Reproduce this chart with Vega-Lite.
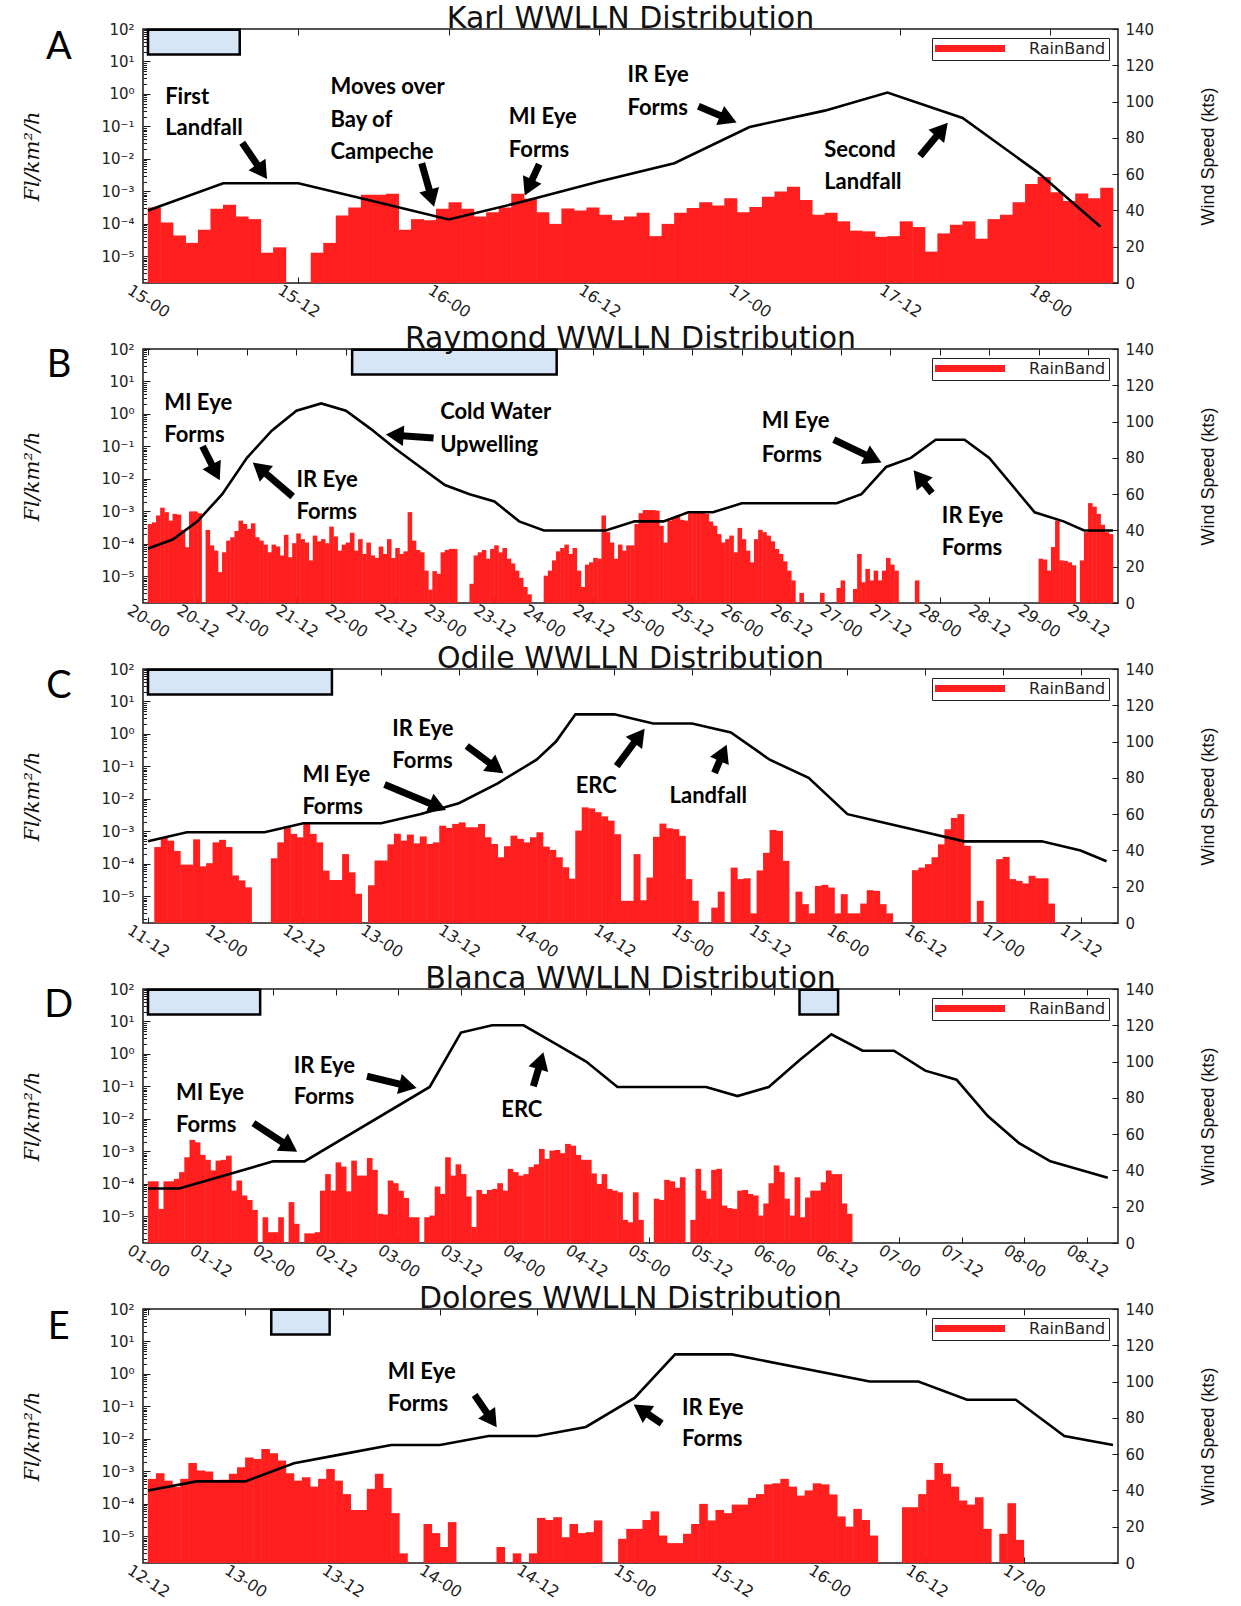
{
"$schema": "https://vega.github.io/schema/vega-lite/v6.json",
"background": "white",
"padding": {"left": 21, "top": 2, "right": 0, "bottom": 0},
"bounds": "flush",
"spacing": 66,
"resolve": {"scale": {"x": "independent", "y": "independent", "color": "independent"}, "legend": {"color": "independent"}},
"datasets": {
"A_bars": [{"h":0,"v":3.2e-4},{"h":1,"v":1.1e-4},{"h":2,"v":4.4e-5},{"h":3,"v":2.6e-5},{"h":4,"v":6.6e-5},{"h":5,"v":2.9e-4},{"h":6,"v":3.9e-4},{"h":7,"v":1.7e-4},{"h":8,"v":1.4e-4},{"h":9,"v":1.3e-5},{"h":10,"v":1.9e-5},{"h":13,"v":1.3e-5},{"h":14,"v":2.6e-5},{"h":15,"v":1.8e-4},{"h":16,"v":3.2e-4},{"h":17,"v":7.9e-4},{"h":18,"v":7.9e-4},{"h":19,"v":8.5e-4},{"h":20,"v":6.6e-5},{"h":21,"v":1.4e-4},{"h":22,"v":1.3e-4},{"h":23,"v":2.9e-4},{"h":24,"v":4.6e-4},{"h":25,"v":2.9e-4},{"h":26,"v":1.7e-4},{"h":27,"v":2.3e-4},{"h":28,"v":3.2e-4},{"h":29,"v":8.5e-4},{"h":30,"v":5.9e-4},{"h":31,"v":2.3e-4},{"h":32,"v":1.0e-4},{"h":33,"v":3.0e-4},{"h":34,"v":2.6e-4},{"h":35,"v":3.2e-4},{"h":36,"v":1.9e-4},{"h":37,"v":1.3e-4},{"h":38,"v":1.7e-4},{"h":39,"v":2.2e-4},{"h":40,"v":4.2e-5},{"h":41,"v":1.0e-4},{"h":42,"v":2.2e-4},{"h":43,"v":3.1e-4},{"h":44,"v":4.6e-4},{"h":45,"v":3.7e-4},{"h":46,"v":6.2e-4},{"h":47,"v":2.3e-4},{"h":48,"v":3.3e-4},{"h":49,"v":6.8e-4},{"h":50,"v":1.0e-3},{"h":51,"v":1.4e-3},{"h":52,"v":5.4e-4},{"h":53,"v":1.9e-4},{"h":54,"v":2.2e-4},{"h":55,"v":1.2e-4},{"h":56,"v":6.2e-5},{"h":57,"v":5.9e-5},{"h":58,"v":4.0e-5},{"h":59,"v":4.2e-5},{"h":60,"v":1.2e-4},{"h":61,"v":8.0e-5},{"h":62,"v":1.4e-5},{"h":63,"v":5.1e-5},{"h":64,"v":9.4e-5},{"h":65,"v":1.2e-4},{"h":66,"v":3.5e-5},{"h":67,"v":1.4e-4},{"h":68,"v":1.9e-4},{"h":69,"v":4.6e-4},{"h":70,"v":1.7e-3},{"h":71,"v":2.8e-3},{"h":72,"v":9.5e-4},{"h":73,"v":5.1e-4},{"h":74,"v":8.6e-4},{"h":75,"v":6.2e-4},{"h":76,"v":1.3e-3}],
"A_line": [{"h":0,"w":40},{"h":6,"w":55},{"h":12,"w":55},{"h":18,"w":45},{"h":24,"w":35},{"h":30,"w":45},{"h":36,"w":56},{"h":42,"w":66},{"h":48,"w":86},{"h":54,"w":95},{"h":59,"w":105},{"h":65,"w":91},{"h":71,"w":61},{"h":76,"w":31}],
"A_box": [{"h":0,"h2":7.32,"w":139.6,"w2":126}],
"A_text": [{"h":1.37,"w":102.7,"t":"First"},{"h":1.37,"w":85.2,"t":"Landfall"},{"h":14.56,"w":107.8,"t":"Moves over"},{"h":14.56,"w":89.8,"t":"Bay of"},{"h":14.56,"w":72.3,"t":"Campeche"},{"h":28.79,"w":91.4,"t":"MI Eye"},{"h":28.79,"w":73.4,"t":"Forms"},{"h":38.26,"w":114.6,"t":"IR Eye"},{"h":38.26,"w":96.5,"t":"Forms"},{"h":53.95,"w":73.4,"t":"Second"},{"h":53.95,"w":55.9,"t":"Landfall"}],
"A_arrow": [{"h":7.52,"w":77.3,"h2":9.10,"w2":61.3,"a":145.6},{"h":21.84,"w":66.0,"h2":22.63,"w2":46.7,"a":164.1},{"h":31.22,"w":65.5,"h2":30.36,"w2":52.6,"a":205},{"h":43.92,"w":97.4,"h2":46.31,"w2":90.4,"a":112.7},{"h":61.6,"w":70.0,"h2":63.36,"w2":84.6,"a":40.2}],
"A_lbl": [{"h":-7.12,"w":129.8,"t":"A"}],
"B_bars": [{"h":0,"v":4.1e-4},{"h":1,"v":4.6e-4},{"h":2,"v":7.5e-4},{"h":3,"v":1.3e-3},{"h":4,"v":9.5e-4},{"h":5,"v":5.2e-4},{"h":6,"v":8.4e-4},{"h":7,"v":8.0e-4},{"h":8,"v":2.7e-4},{"h":9,"v":7.9e-5},{"h":10,"v":1.0e-3},{"h":11,"v":1.0e-3},{"h":12,"v":8.8e-4},{"h":14,"v":2.7e-4},{"h":15,"v":9e-5},{"h":16,"v":6.2e-5},{"h":17,"v":1.35e-5},{"h":18,"v":5.5e-5},{"h":19,"v":1.26e-4},{"h":20,"v":1.6e-4},{"h":21,"v":2.5e-4},{"h":22,"v":5.2e-4},{"h":23,"v":4.1e-4},{"h":24,"v":2.9e-4},{"h":25,"v":4.3e-4},{"h":26,"v":1.6e-4},{"h":27,"v":1.26e-4},{"h":28,"v":9.5e-5},{"h":29,"v":5.5e-5},{"h":30,"v":9.5e-5},{"h":31,"v":8.3e-5},{"h":32,"v":4.4e-5},{"h":33,"v":1.9e-4},{"h":34,"v":3.9e-5},{"h":35,"v":1.05e-4},{"h":36,"v":2.1e-4},{"h":37,"v":1.4e-4},{"h":38,"v":1.1e-4},{"h":39,"v":3.1e-5},{"h":40,"v":1.8e-4},{"h":41,"v":1.2e-4},{"h":42,"v":1.4e-4},{"h":43,"v":1.05e-4},{"h":44,"v":3.4e-4},{"h":45,"v":1.7e-4},{"h":46,"v":6.2e-5},{"h":47,"v":9.5e-5},{"h":48,"v":1.1e-4},{"h":49,"v":2.2e-4},{"h":50,"v":6.2e-5},{"h":51,"v":1.4e-4},{"h":52,"v":4.9e-5},{"h":53,"v":1.1e-4},{"h":54,"v":4.4e-5},{"h":55,"v":3.7e-5},{"h":56,"v":8.3e-5},{"h":57,"v":4.9e-5},{"h":58,"v":1.4e-4},{"h":59,"v":3.7e-5},{"h":60,"v":7.5e-5},{"h":61,"v":4.9e-5},{"h":62,"v":5.9e-5},{"h":63,"v":9.5e-4},{"h":64,"v":1.26e-4},{"h":65,"v":6.5e-5},{"h":66,"v":5.5e-5},{"h":67,"v":1.5e-5},{"h":68,"v":3.9e-6},{"h":69,"v":1.45e-5},{"h":70,"v":1.2e-5},{"h":71,"v":5.5e-5},{"h":72,"v":6.5e-5},{"h":73,"v":7.0e-5},{"h":74,"v":7.0e-5},{"h":78,"v":5.9e-6},{"h":79,"v":4.4e-5},{"h":80,"v":5.5e-5},{"h":81,"v":6.5e-5},{"h":82,"v":3.5e-5},{"h":83,"v":7.0e-5},{"h":84,"v":9e-5},{"h":85,"v":5.5e-5},{"h":86,"v":7.5e-5},{"h":87,"v":3.5e-5},{"h":88,"v":2.5e-5},{"h":89,"v":1.5e-5},{"h":90,"v":9e-6},{"h":91,"v":4.7e-6},{"h":92,"v":2.8e-6},{"h":96,"v":1.05e-5},{"h":97,"v":1.5e-5},{"h":98,"v":3.1e-5},{"h":99,"v":5.9e-5},{"h":100,"v":7.5e-5},{"h":101,"v":9.5e-5},{"h":102,"v":4.9e-5},{"h":103,"v":7.5e-5},{"h":104,"v":1.5e-5},{"h":105,"v":4.7e-6},{"h":106,"v":2.3e-5},{"h":107,"v":2.7e-5},{"h":108,"v":3.7e-5},{"h":109,"v":3.5e-5},{"h":110,"v":7.5e-4},{"h":111,"v":2.3e-4},{"h":112,"v":1.1e-4},{"h":113,"v":3.5e-5},{"h":114,"v":9.5e-5},{"h":115,"v":6.2e-5},{"h":116,"v":9e-5},{"h":117,"v":9e-5},{"h":118,"v":4.1e-4},{"h":119,"v":8.8e-4},{"h":120,"v":1.1e-3},{"h":121,"v":1.1e-3},{"h":122,"v":1.1e-3},{"h":123,"v":1.06e-3},{"h":124,"v":3.6e-4},{"h":125,"v":1.1e-4},{"h":126,"v":5.2e-4},{"h":127,"v":6.6e-4},{"h":128,"v":7.5e-4},{"h":129,"v":5.5e-4},{"h":130,"v":5.2e-4},{"h":131,"v":8.8e-4},{"h":132,"v":1.0e-3},{"h":133,"v":1.0e-3},{"h":134,"v":9.5e-4},{"h":135,"v":8.4e-4},{"h":136,"v":4.9e-4},{"h":137,"v":3.6e-4},{"h":138,"v":2.0e-4},{"h":139,"v":1.1e-4},{"h":140,"v":1.4e-4},{"h":141,"v":1.8e-4},{"h":142,"v":5.5e-5},{"h":143,"v":3.1e-4},{"h":144,"v":1.4e-4},{"h":145,"v":6.2e-5},{"h":146,"v":2.7e-5},{"h":147,"v":1.4e-4},{"h":148,"v":2.7e-4},{"h":149,"v":2.3e-4},{"h":150,"v":1.8e-4},{"h":151,"v":1.2e-4},{"h":152,"v":7e-5},{"h":153,"v":4.9e-5},{"h":154,"v":2.9e-5},{"h":155,"v":1.5e-5},{"h":156,"v":7.5e-6},{"h":158,"v":3.1e-6},{"h":163,"v":3.1e-6},{"h":167,"v":4.4e-6},{"h":168,"v":7.5e-6},{"h":171,"v":4.1e-6},{"h":172,"v":4.9e-5},{"h":173,"v":6.6e-6},{"h":174,"v":1.7e-5},{"h":175,"v":7.5e-6},{"h":176,"v":1.5e-5},{"h":177,"v":7.5e-6},{"h":178,"v":1.5e-5},{"h":179,"v":3.7e-5},{"h":180,"v":2.3e-5},{"h":181,"v":1.5e-5},{"h":186,"v":7.5e-6},{"h":216,"v":3.5e-5},{"h":217,"v":3.3e-5},{"h":218,"v":1.5e-5},{"h":219,"v":8e-5},{"h":220,"v":5.2e-4},{"h":221,"v":3.1e-5},{"h":222,"v":3.0e-5},{"h":223,"v":2.7e-5},{"h":224,"v":2.2e-5},{"h":226,"v":3.1e-5},{"h":227,"v":2.3e-4},{"h":228,"v":1.8e-3},{"h":229,"v":1.4e-3},{"h":230,"v":8.4e-4},{"h":231,"v":3.9e-4},{"h":232,"v":2.3e-4},{"h":233,"v":2.0e-4}],
"B_line": [{"h":0,"w":30},{"h":6,"w":35},{"h":12,"w":45},{"h":18,"w":60},{"h":24,"w":80},{"h":30,"w":95},{"h":36,"w":106},{"h":42,"w":110},{"h":48,"w":106},{"h":54,"w":96},{"h":60,"w":85},{"h":66,"w":75},{"h":72,"w":65},{"h":78,"w":60},{"h":84,"w":56},{"h":90,"w":45},{"h":96,"w":40},{"h":111,"w":40},{"h":118,"w":45},{"h":125,"w":45},{"h":131,"w":50},{"h":137,"w":50},{"h":144,"w":55},{"h":167,"w":55},{"h":173,"w":60},{"h":179,"w":75},{"h":185,"w":80},{"h":191,"w":90},{"h":198,"w":90},{"h":204,"w":80},{"h":215,"w":50},{"h":222,"w":45},{"h":227,"w":40},{"h":234,"w":40}],
"B_box": [{"h":49.5,"h2":99.1,"w":139.6,"w2":126}],
"B_text": [{"h":3.93,"w":110.5,"t":"MI Eye"},{"h":3.93,"w":92.4,"t":"Forms"},{"h":36.0,"w":68.0,"t":"IR Eye"},{"h":36.0,"w":50.4,"t":"Forms"},{"h":70.84,"w":105.4,"t":"Cold Water"},{"h":70.84,"w":86.9,"t":"Upwelling"},{"h":148.8,"w":100.2,"t":"MI Eye"},{"h":148.8,"w":81.8,"t":"Forms"},{"h":192.5,"w":47.7,"t":"IR Eye"},{"h":192.5,"w":30.1,"t":"Forms"}],
"B_arrow": [{"h":13.22,"w":86.4,"h2":16.42,"w2":72.0,"a":152.9},{"h":35.08,"w":58.7,"h2":27.06,"w2":74.3,"a":310},{"h":69.24,"w":91.0,"h2":59.83,"w2":92.5,"a":274},{"h":166.3,"w":90.1,"h2":175.9,"w2":79.6,"a":115.3},{"h":190.1,"w":60.6,"h2":187.0,"w2":69.4,"a":321.3}],
"B_lbl": [{"h":-21.6,"w":130.4,"t":"B"}],
"C_bars": [{"h":13,"v":3.3e-4},{"h":14,"v":6.6e-4},{"h":15,"v":5.2e-4},{"h":16,"v":2.5e-4},{"h":17,"v":9.5e-5},{"h":18,"v":9.5e-5},{"h":19,"v":5.7e-4},{"h":20,"v":8.4e-5},{"h":21,"v":1.05e-4},{"h":22,"v":4.6e-4},{"h":23,"v":5.5e-4},{"h":24,"v":3.3e-4},{"h":25,"v":4.4e-5},{"h":26,"v":3.1e-5},{"h":27,"v":1.9e-5},{"h":31,"v":1.5e-4},{"h":32,"v":4.6e-4},{"h":33,"v":1.44e-3},{"h":34,"v":8.4e-4},{"h":35,"v":6.6e-4},{"h":36,"v":1.8e-3},{"h":37,"v":8.4e-4},{"h":38,"v":4.6e-4},{"h":39,"v":6.2e-5},{"h":40,"v":3.2e-5},{"h":41,"v":3.2e-5},{"h":42,"v":2.0e-4},{"h":43,"v":5.5e-5},{"h":44,"v":1.2e-5},{"h":46,"v":2.2e-5},{"h":47,"v":1.27e-4},{"h":48,"v":1.27e-4},{"h":49,"v":4.0e-4},{"h":50,"v":8.4e-4},{"h":51,"v":5.2e-4},{"h":52,"v":8.0e-4},{"h":53,"v":4.3e-4},{"h":54,"v":7.0e-4},{"h":55,"v":4.1e-4},{"h":56,"v":4.6e-4},{"h":57,"v":1.5e-3},{"h":58,"v":1.28e-3},{"h":59,"v":1.7e-3},{"h":60,"v":1.9e-3},{"h":61,"v":1.34e-3},{"h":62,"v":1.34e-3},{"h":63,"v":1.7e-3},{"h":64,"v":6.6e-4},{"h":65,"v":4.1e-4},{"h":66,"v":1.6e-4},{"h":67,"v":3.5e-4},{"h":68,"v":7.4e-4},{"h":69,"v":5.9e-4},{"h":70,"v":4.6e-4},{"h":71,"v":6.6e-4},{"h":72,"v":9.4e-4},{"h":73,"v":3.4e-4},{"h":74,"v":2.7e-4},{"h":75,"v":1.6e-4},{"h":76,"v":7.9e-5},{"h":77,"v":3.5e-5},{"h":78,"v":1.06e-3},{"h":79,"v":5.5e-3},{"h":80,"v":5.1e-3},{"h":81,"v":3.9e-3},{"h":82,"v":2.9e-3},{"h":83,"v":2.15e-3},{"h":84,"v":8.2e-4},{"h":85,"v":7.3e-6},{"h":86,"v":7.3e-6},{"h":87,"v":2.0e-4},{"h":88,"v":7.6e-6},{"h":89,"v":3.8e-5},{"h":90,"v":6.8e-4},{"h":91,"v":1.74e-3},{"h":92,"v":1.25e-3},{"h":93,"v":1.17e-3},{"h":94,"v":7.3e-4},{"h":95,"v":3.4e-5},{"h":96,"v":7.3e-6},{"h":99,"v":4.5e-6},{"h":100,"v":1.4e-5},{"h":102,"v":7.7e-5},{"h":103,"v":3.4e-5},{"h":104,"v":3.6e-5},{"h":105,"v":3.0e-6},{"h":106,"v":6.3e-5},{"h":107,"v":2.2e-4},{"h":108,"v":1.11e-3},{"h":109,"v":1.04e-3},{"h":110,"v":1.24e-4},{"h":112,"v":1.4e-5},{"h":113,"v":5.75e-6},{"h":114,"v":3.0e-6},{"h":115,"v":2.1e-5},{"h":116,"v":2.26e-5},{"h":117,"v":1.87e-5},{"h":118,"v":3.0e-6},{"h":119,"v":1.17e-5},{"h":120,"v":3.0e-6},{"h":121,"v":3.0e-6},{"h":122,"v":6.0e-6},{"h":123,"v":1.55e-5},{"h":124,"v":1.48e-5},{"h":125,"v":5.75e-6},{"h":126,"v":3.0e-6},{"h":130,"v":6.4e-5},{"h":131,"v":7.7e-5},{"h":132,"v":9.8e-5},{"h":133,"v":1.6e-4},{"h":134,"v":4.0e-4},{"h":135,"v":1.17e-3},{"h":136,"v":2.6e-3},{"h":137,"v":3.4e-3},{"h":138,"v":3.6e-4},{"h":140,"v":7.3e-6},{"h":143,"v":1.4e-4},{"h":144,"v":1.64e-4},{"h":145,"v":3.4e-5},{"h":146,"v":3.0e-5},{"h":147,"v":2.5e-5},{"h":148,"v":4.3e-5},{"h":149,"v":3.6e-5},{"h":150,"v":3.6e-5},{"h":151,"v":6.0e-6}],
"C_line": [{"h":12,"w":45},{"h":18,"w":50},{"h":30,"w":50},{"h":36,"w":55},{"h":48,"w":55},{"h":54,"w":60},{"h":60,"w":66},{"h":66,"w":77},{"h":72,"w":90},{"h":75,"w":100},{"h":78,"w":115},{"h":84,"w":115},{"h":90,"w":110},{"h":96,"w":110},{"h":102,"w":105},{"h":108,"w":90},{"h":114,"w":80},{"h":120,"w":60},{"h":126,"w":55},{"h":132,"w":50},{"h":138,"w":45},{"h":150,"w":45},{"h":156,"w":40},{"h":160,"w":34}],
"C_box": [{"h":12,"h2":40.4,"w":139.6,"w2":126}],
"C_text": [{"h":49.72,"w":107.0,"t":"IR Eye"},{"h":49.72,"w":89.4,"t":"Forms"},{"h":35.84,"w":81.8,"t":"MI Eye"},{"h":35.84,"w":63.9,"t":"Forms"},{"h":78.03,"w":75.3,"t":"ERC"},{"h":92.54,"w":69.8,"t":"Landfall"}],
"C_arrow": [{"h":61.22,"w":97.6,"h2":65.78,"w2":85.4,"a":126.3},{"h":48.53,"w":76.3,"h2":56.75,"w2":64.1,"a":112.2},{"h":84.37,"w":86.5,"h2":87.86,"w2":103.2,"a":37.2},{"h":99.47,"w":82.7,"h2":100.79,"w2":93.8,"a":24.0}],
"C_lbl": [{"h":-1.77,"w":130.3,"t":"C"}],
"D_bars": [{"h":0,"v":1.2e-4},{"h":1,"v":1.2e-4},{"h":2,"v":1.7e-5},{"h":3,"v":1.2e-4},{"h":4,"v":1.2e-4},{"h":5,"v":1.43e-4},{"h":6,"v":2.3e-4},{"h":7,"v":6.6e-4},{"h":8,"v":2.26e-3},{"h":9,"v":1.9e-3},{"h":10,"v":7.8e-4},{"h":11,"v":5.5e-4},{"h":12,"v":2.6e-4},{"h":13,"v":5.2e-4},{"h":14,"v":5.5e-4},{"h":15,"v":7.4e-4},{"h":16,"v":6.2e-5},{"h":17,"v":1.27e-4},{"h":18,"v":4.4e-5},{"h":19,"v":3.2e-5},{"h":20,"v":1.58e-5},{"h":22,"v":9.4e-6},{"h":23,"v":3.26e-6},{"h":24,"v":3.26e-6},{"h":25,"v":9.4e-6},{"h":27,"v":2.75e-5},{"h":28,"v":5.9e-6},{"h":30,"v":3.0e-6},{"h":31,"v":3.0e-6},{"h":32,"v":3.26e-6},{"h":33,"v":6.2e-5},{"h":34,"v":2.0e-4},{"h":35,"v":6.2e-5},{"h":36,"v":4.6e-4},{"h":37,"v":3.4e-4},{"h":38,"v":5.9e-5},{"h":39,"v":5.2e-4},{"h":40,"v":1.8e-4},{"h":41,"v":1.8e-4},{"h":42,"v":6.3e-4},{"h":43,"v":2.7e-4},{"h":44,"v":1.2e-5},{"h":45,"v":1.14e-5},{"h":46,"v":1.27e-4},{"h":47,"v":1.05e-4},{"h":48,"v":6.2e-5},{"h":49,"v":3.7e-5},{"h":50,"v":9.4e-6},{"h":51,"v":9.4e-6},{"h":53,"v":9.4e-6},{"h":54,"v":1.06e-5},{"h":55,"v":8.3e-5},{"h":56,"v":4.9e-5},{"h":57,"v":6.6e-4},{"h":58,"v":1.8e-4},{"h":59,"v":4.0e-4},{"h":60,"v":2.0e-4},{"h":61,"v":4.1e-5},{"h":62,"v":4.7e-6},{"h":63,"v":6.5e-5},{"h":64,"v":4.9e-5},{"h":65,"v":6.5e-5},{"h":66,"v":7.0e-5},{"h":67,"v":1.05e-4},{"h":68,"v":6.2e-5},{"h":69,"v":2.9e-4},{"h":70,"v":2.3e-4},{"h":71,"v":1.8e-4},{"h":72,"v":2.0e-4},{"h":73,"v":3.3e-4},{"h":74,"v":4.0e-4},{"h":75,"v":1.19e-3},{"h":76,"v":5.9e-4},{"h":77,"v":1.06e-3},{"h":78,"v":1.11e-3},{"h":79,"v":8.8e-4},{"h":80,"v":1.7e-3},{"h":81,"v":1.5e-3},{"h":82,"v":7.8e-4},{"h":83,"v":5.5e-4},{"h":84,"v":5.5e-4},{"h":85,"v":2.1e-4},{"h":86,"v":1.0e-4},{"h":87,"v":2.0e-4},{"h":88,"v":7.0e-5},{"h":89,"v":6.2e-5},{"h":90,"v":5.5e-5},{"h":91,"v":7.8e-6},{"h":92,"v":6.6e-6},{"h":93,"v":5.5e-5},{"h":94,"v":7.8e-6},{"h":97,"v":3.5e-5},{"h":98,"v":3.2e-5},{"h":99,"v":1.33e-4},{"h":100,"v":1.2e-4},{"h":101,"v":7.6e-5},{"h":102,"v":1.6e-4},{"h":104,"v":7.8e-6},{"h":105,"v":2.9e-4},{"h":106,"v":6.2e-5},{"h":107,"v":3.5e-5},{"h":108,"v":2.7e-4},{"h":109,"v":2.9e-4},{"h":110,"v":2.15e-5},{"h":111,"v":1.8e-5},{"h":112,"v":1.7e-5},{"h":113,"v":6.2e-5},{"h":114,"v":6.5e-5},{"h":115,"v":4.9e-5},{"h":116,"v":4.4e-5},{"h":117,"v":1.06e-5},{"h":118,"v":2.5e-5},{"h":119,"v":1.05e-4},{"h":120,"v":3.7e-4},{"h":121,"v":2.3e-4},{"h":122,"v":3.5e-5},{"h":123,"v":1.06e-5},{"h":124,"v":1.6e-4},{"h":125,"v":9.4e-6},{"h":126,"v":3.8e-5},{"h":127,"v":6.2e-5},{"h":128,"v":6.2e-5},{"h":129,"v":1.12e-4},{"h":130,"v":2.6e-4},{"h":131,"v":2.0e-4},{"h":132,"v":2.0e-4},{"h":133,"v":2.5e-5},{"h":134,"v":1.2e-5}],
"D_line": [{"h":0,"w":30},{"h":6,"w":30},{"h":24,"w":45},{"h":30,"w":45},{"h":54,"w":86},{"h":60,"w":116},{"h":66,"w":120},{"h":72,"w":120},{"h":78,"w":110},{"h":84,"w":100},{"h":90,"w":86},{"h":107,"w":86},{"h":113,"w":81},{"h":119,"w":86},{"h":125,"w":101},{"h":131,"w":115},{"h":137,"w":106},{"h":143,"w":106},{"h":149,"w":95},{"h":155,"w":90},{"h":161,"w":70},{"h":167,"w":55},{"h":173,"w":45},{"h":184,"w":36}],
"D_box": [{"h":0,"h2":21.5,"w":139.6,"w2":126},{"h":124.9,"h2":132.3,"w":139.6,"w2":126}],
"D_text": [{"h":27.94,"w":97.5,"t":"IR Eye"},{"h":27.94,"w":80.3,"t":"Forms"},{"h":5.36,"w":82.8,"t":"MI Eye"},{"h":5.36,"w":65.2,"t":"Forms"},{"h":67.72,"w":73.5,"t":"ERC"}],
"D_arrow": [{"h":41.98,"w":91.9,"h2":49.85,"w2":86.5,"a":103.3},{"h":20.21,"w":66.1,"h2":27.17,"w2":52.9,"a":123},{"h":73.88,"w":86.4,"h2":75.32,"w2":100.5,"a":16.4}],
"D_lbl": [{"h":-17.1,"w":130.4,"t":"D"}],
"E_bars": [{"h":12,"v":5.9e-4},{"h":13,"v":8.8e-4},{"h":14,"v":5.2e-4},{"h":15,"v":3.3e-4},{"h":16,"v":5.9e-4},{"h":17,"v":1.8e-3},{"h":18,"v":1.06e-3},{"h":19,"v":1.0e-3},{"h":20,"v":5.5e-4},{"h":21,"v":5.5e-4},{"h":22,"v":8.4e-4},{"h":23,"v":1.34e-3},{"h":24,"v":2.7e-3},{"h":25,"v":2.4e-3},{"h":26,"v":4.9e-3},{"h":27,"v":3.6e-3},{"h":28,"v":2.15e-3},{"h":29,"v":8.8e-4},{"h":30,"v":5.2e-4},{"h":31,"v":6.6e-4},{"h":32,"v":3.4e-4},{"h":33,"v":5.9e-4},{"h":34,"v":1.19e-3},{"h":35,"v":5.2e-4},{"h":36,"v":2.0e-4},{"h":37,"v":6.5e-5},{"h":38,"v":6.5e-5},{"h":39,"v":2.9e-4},{"h":40,"v":8.4e-4},{"h":41,"v":3.1e-4},{"h":42,"v":5.2e-5},{"h":43,"v":3.0e-6},{"h":46,"v":2.4e-5},{"h":47,"v":1.26e-5},{"h":48,"v":4.7e-6},{"h":49,"v":2.75e-5},{"h":55,"v":4.7e-6},{"h":57,"v":3.0e-6},{"h":59,"v":3.0e-6},{"h":60,"v":3.7e-5},{"h":61,"v":3.2e-5},{"h":62,"v":3.9e-5},{"h":63,"v":9.4e-6},{"h":64,"v":2.4e-5},{"h":65,"v":1.26e-5},{"h":66,"v":1.35e-5},{"h":67,"v":3.1e-5},{"h":70,"v":8.4e-6},{"h":71,"v":1.7e-5},{"h":72,"v":1.7e-5},{"h":73,"v":3.2e-5},{"h":74,"v":5.9e-5},{"h":75,"v":1.06e-5},{"h":76,"v":6.2e-6},{"h":77,"v":6.2e-6},{"h":78,"v":1.2e-5},{"h":79,"v":2.4e-5},{"h":80,"v":1.0e-4},{"h":81,"v":3.1e-5},{"h":82,"v":6.5e-5},{"h":83,"v":5.2e-5},{"h":84,"v":9.5e-5},{"h":85,"v":9.5e-5},{"h":86,"v":1.53e-4},{"h":87,"v":2.0e-4},{"h":88,"v":4.0e-4},{"h":89,"v":4.3e-4},{"h":90,"v":5.9e-4},{"h":91,"v":3.4e-4},{"h":92,"v":1.8e-4},{"h":93,"v":2.6e-4},{"h":94,"v":4.3e-4},{"h":95,"v":4.0e-4},{"h":96,"v":1.95e-4},{"h":97,"v":4.1e-5},{"h":98,"v":2.0e-5},{"h":99,"v":7.0e-5},{"h":100,"v":3.2e-5},{"h":101,"v":1.06e-5},{"h":105,"v":7.9e-5},{"h":106,"v":7.9e-5},{"h":107,"v":2.0e-4},{"h":108,"v":5.5e-4},{"h":109,"v":1.8e-3},{"h":110,"v":8.4e-4},{"h":111,"v":3.4e-4},{"h":112,"v":1.27e-4},{"h":113,"v":9.5e-5},{"h":114,"v":1.6e-4},{"h":115,"v":1.7e-5},{"h":117,"v":1.2e-5},{"h":118,"v":1.05e-4},{"h":119,"v":7.8e-6}],
"E_line": [{"h":12,"w":40},{"h":18,"w":45},{"h":24,"w":45},{"h":30,"w":55},{"h":36,"w":60},{"h":42,"w":65},{"h":48,"w":65},{"h":54,"w":70},{"h":60,"w":70},{"h":66,"w":75},{"h":72,"w":91},{"h":77,"w":115},{"h":84,"w":115},{"h":101,"w":100},{"h":107,"w":100},{"h":113,"w":90},{"h":119,"w":90},{"h":125,"w":70},{"h":131,"w":65}],
"E_box": [{"h":27.2,"h2":34.4,"w":139.6,"w2":126}],
"E_text": [{"h":41.56,"w":105.1,"t":"MI Eye"},{"h":41.56,"w":87.4,"t":"Forms"},{"h":77.86,"w":85.6,"t":"IR Eye"},{"h":77.86,"w":68.6,"t":"Forms"}],
"E_arrow": [{"h":52.28,"w":92.6,"h2":54.38,"w2":78.8,"a":145.4},{"h":75.34,"w":76.9,"h2":72.8,"w2":84.6,"a":303.8}],
"E_lbl": [{"h":1.0,"w":129.8,"t":"E"}]
},
"vconcat": [
{
"title": {"text": "Karl WWLLN Distribution"},
"width": 975, "height": 254,
"resolve": {"scale": {"y": "independent"}, "axis": {"y": "independent"}},
"layer": [
{"data": {"name": "A_bars"}, "mark": {"type": "bar", "orient": "vertical", "width": 13.06, "xOffset": 6.33},
 "encoding": {
  "x": {"field": "h", "type": "quantitative", "scale": {"domain": [0, 77], "nice": false, "zero": false}, "axis": {"orient": "bottom", "title": null, "values": [0,12,24,36,48,60,72], "labelExpr": "(15+floor(datum.value/24)) + '-' + (datum.value % 24 == 0 ? '00' : '12')"}},
  "y": {"field": "v", "type": "quantitative", "scale": {"type": "log", "domain": [1.514e-6, 100], "nice": false}, "axis": {"orient": "left", "title": "Fl/km²/h", "labelOverlap": false, "values": [2e-6,3e-6,4e-6,5e-6,6e-6,7e-6,8e-6,9e-6,1e-5,2e-5,3e-5,4e-5,5e-5,6e-5,7e-5,8e-5,9e-5,1e-4,2e-4,3e-4,4e-4,5e-4,6e-4,7e-4,8e-4,9e-4,1e-3,2e-3,3e-3,4e-3,5e-3,6e-3,7e-3,8e-3,9e-3,1e-2,2e-2,3e-2,4e-2,5e-2,6e-2,7e-2,8e-2,9e-2,0.1,0.2,0.3,0.4,0.5,0.6,0.7,0.8,0.9,1,2,3,4,5,6,7,8,9,10,20,30,40,50,60,70,80,90,100], "tickSize": {"condition": {"test": "abs(log(datum.value)/LN10 - round(log(datum.value)/LN10)) < 0.01", "value": -7}, "value": -3.5}, "labelExpr": "abs(log(datum.value)/LN10 - round(log(datum.value)/LN10)) > 0.01 ? '' : datum.value > 50 ? '10²' : datum.value > 5 ? '10¹' : datum.value > 0.5 ? '10⁰' : datum.value > 0.05 ? '10⁻¹' : datum.value > 0.005 ? '10⁻²' : datum.value > 0.0005 ? '10⁻³' : datum.value > 0.00005 ? '10⁻⁴' : '10⁻⁵'"}},
  "y2": {"datum": 1.514e-6},
  "color": {"datum": "RainBand", "scale": {"range": ["#ff1f1f"]}, "legend": {"title": null, "labelExpr": "datum.label + '              '"}}
 }},
{"data": {"name": "A_line"}, "mark": {"type": "line", "color": "black", "strokeWidth": 2.6},
 "encoding": {
  "x": {"field": "h", "type": "quantitative", "scale": {"domain": [0, 77], "nice": false, "zero": false}, "axis": {"orient": "top", "title": null, "values": [0,12,24,36,48,60,72]}},
  "y": {"field": "w", "type": "quantitative", "scale": {"domain": [0, 140], "nice": false, "zero": false}, "axis": {"orient": "right", "title": "Wind Speed (kts)", "values": [0,20,40,60,80,100,120,140]}}
 }},
{"data": {"name": "A_box"}, "mark": {"type": "rect", "fill": "#d6e6f7", "stroke": "black", "strokeWidth": 2.5},
 "encoding": {
  "x": {"field": "h", "type": "quantitative", "scale": {"domain": [0, 77], "nice": false, "zero": false}, "axis": null},
  "x2": {"field": "h2"},
  "y": {"field": "w", "type": "quantitative", "scale": {"domain": [0, 140], "nice": false, "zero": false}, "axis": null},
  "y2": {"field": "w2"}
 }},
{"data": {"name": "A_arrow"}, "mark": {"type": "rule", "color": "black", "strokeWidth": 7},
 "encoding": {
  "x": {"field": "h", "type": "quantitative", "scale": {"domain": [0, 77], "nice": false, "zero": false}, "axis": null},
  "x2": {"field": "h2"},
  "y": {"field": "w", "type": "quantitative", "scale": {"domain": [0, 140], "nice": false, "zero": false}, "axis": null},
  "y2": {"field": "w2"}
 }},
{"data": {"name": "A_arrow"}, "mark": {"type": "point", "shape": "triangle-up", "filled": true, "color": "black", "opacity": 1, "size": 420},
 "encoding": {
  "x": {"field": "h2", "type": "quantitative", "scale": {"domain": [0, 77], "nice": false, "zero": false}, "axis": null},
  "y": {"field": "w2", "type": "quantitative", "scale": {"domain": [0, 140], "nice": false, "zero": false}, "axis": null},
  "angle": {"field": "a", "type": "quantitative", "scale": null}
 }},
{"data": {"name": "A_text"}, "mark": {"type": "text", "font": "Lato", "fontWeight": "bold", "fontSize": 22, "align": "left", "baseline": "middle", "color": "black"},
 "encoding": {
  "x": {"field": "h", "type": "quantitative", "scale": {"domain": [0, 77], "nice": false, "zero": false}, "axis": null},
  "y": {"field": "w", "type": "quantitative", "scale": {"domain": [0, 140], "nice": false, "zero": false}, "axis": null},
  "text": {"field": "t"}
 }},
{"data": {"name": "A_lbl"}, "mark": {"type": "text", "font": "Lato", "fontSize": 38, "align": "center", "baseline": "middle", "color": "black"},
 "encoding": {
  "x": {"field": "h", "type": "quantitative", "scale": {"domain": [0, 77], "nice": false, "zero": false}, "axis": null},
  "y": {"field": "w", "type": "quantitative", "scale": {"domain": [0, 140], "nice": false, "zero": false}, "axis": null},
  "text": {"field": "t"}
 }}
]
},
{
"title": {"text": "Raymond WWLLN Distribution"},
"width": 975, "height": 254,
"resolve": {"scale": {"y": "independent"}, "axis": {"y": "independent"}},
"layer": [
{"data": {"name": "B_bars"}, "mark": {"type": "bar", "orient": "vertical", "width": 4.57, "xOffset": 2.083},
 "encoding": {
  "x": {"field": "h", "type": "quantitative", "scale": {"domain": [0, 234], "nice": false, "zero": false}, "axis": {"orient": "bottom", "title": null, "values": [0,12,24,36,48,60,72,84,96,108,120,132,144,156,168,180,192,204,216,228], "labelExpr": "(20+floor(datum.value/24)) + '-' + (datum.value % 24 == 0 ? '00' : '12')"}},
  "y": {"field": "v", "type": "quantitative", "scale": {"type": "log", "domain": [1.514e-6, 100], "nice": false}, "axis": {"orient": "left", "title": "Fl/km²/h", "labelOverlap": false, "values": [2e-6,3e-6,4e-6,5e-6,6e-6,7e-6,8e-6,9e-6,1e-5,2e-5,3e-5,4e-5,5e-5,6e-5,7e-5,8e-5,9e-5,1e-4,2e-4,3e-4,4e-4,5e-4,6e-4,7e-4,8e-4,9e-4,1e-3,2e-3,3e-3,4e-3,5e-3,6e-3,7e-3,8e-3,9e-3,1e-2,2e-2,3e-2,4e-2,5e-2,6e-2,7e-2,8e-2,9e-2,0.1,0.2,0.3,0.4,0.5,0.6,0.7,0.8,0.9,1,2,3,4,5,6,7,8,9,10,20,30,40,50,60,70,80,90,100], "tickSize": {"condition": {"test": "abs(log(datum.value)/LN10 - round(log(datum.value)/LN10)) < 0.01", "value": -7}, "value": -3.5}, "labelExpr": "abs(log(datum.value)/LN10 - round(log(datum.value)/LN10)) > 0.01 ? '' : datum.value > 50 ? '10²' : datum.value > 5 ? '10¹' : datum.value > 0.5 ? '10⁰' : datum.value > 0.05 ? '10⁻¹' : datum.value > 0.005 ? '10⁻²' : datum.value > 0.0005 ? '10⁻³' : datum.value > 0.00005 ? '10⁻⁴' : '10⁻⁵'"}},
  "y2": {"datum": 1.514e-6},
  "color": {"datum": "RainBand", "scale": {"range": ["#ff1f1f"]}, "legend": {"title": null, "labelExpr": "datum.label + '              '"}}
 }},
{"data": {"name": "B_line"}, "mark": {"type": "line", "color": "black", "strokeWidth": 2.6},
 "encoding": {
  "x": {"field": "h", "type": "quantitative", "scale": {"domain": [0, 234], "nice": false, "zero": false}, "axis": {"orient": "top", "title": null, "values": [0,12,24,36,48,60,72,84,96,108,120,132,144,156,168,180,192,204,216,228]}},
  "y": {"field": "w", "type": "quantitative", "scale": {"domain": [0, 140], "nice": false, "zero": false}, "axis": {"orient": "right", "title": "Wind Speed (kts)", "values": [0,20,40,60,80,100,120,140]}}
 }},
{"data": {"name": "B_box"}, "mark": {"type": "rect", "fill": "#d6e6f7", "stroke": "black", "strokeWidth": 2.5},
 "encoding": {
  "x": {"field": "h", "type": "quantitative", "scale": {"domain": [0, 234], "nice": false, "zero": false}, "axis": null},
  "x2": {"field": "h2"},
  "y": {"field": "w", "type": "quantitative", "scale": {"domain": [0, 140], "nice": false, "zero": false}, "axis": null},
  "y2": {"field": "w2"}
 }},
{"data": {"name": "B_arrow"}, "mark": {"type": "rule", "color": "black", "strokeWidth": 7},
 "encoding": {
  "x": {"field": "h", "type": "quantitative", "scale": {"domain": [0, 234], "nice": false, "zero": false}, "axis": null},
  "x2": {"field": "h2"},
  "y": {"field": "w", "type": "quantitative", "scale": {"domain": [0, 140], "nice": false, "zero": false}, "axis": null},
  "y2": {"field": "w2"}
 }},
{"data": {"name": "B_arrow"}, "mark": {"type": "point", "shape": "triangle-up", "filled": true, "color": "black", "opacity": 1, "size": 420},
 "encoding": {
  "x": {"field": "h2", "type": "quantitative", "scale": {"domain": [0, 234], "nice": false, "zero": false}, "axis": null},
  "y": {"field": "w2", "type": "quantitative", "scale": {"domain": [0, 140], "nice": false, "zero": false}, "axis": null},
  "angle": {"field": "a", "type": "quantitative", "scale": null}
 }},
{"data": {"name": "B_text"}, "mark": {"type": "text", "font": "Lato", "fontWeight": "bold", "fontSize": 22, "align": "left", "baseline": "middle", "color": "black"},
 "encoding": {
  "x": {"field": "h", "type": "quantitative", "scale": {"domain": [0, 234], "nice": false, "zero": false}, "axis": null},
  "y": {"field": "w", "type": "quantitative", "scale": {"domain": [0, 140], "nice": false, "zero": false}, "axis": null},
  "text": {"field": "t"}
 }},
{"data": {"name": "B_lbl"}, "mark": {"type": "text", "font": "Lato", "fontSize": 38, "align": "center", "baseline": "middle", "color": "black"},
 "encoding": {
  "x": {"field": "h", "type": "quantitative", "scale": {"domain": [0, 234], "nice": false, "zero": false}, "axis": null},
  "y": {"field": "w", "type": "quantitative", "scale": {"domain": [0, 140], "nice": false, "zero": false}, "axis": null},
  "text": {"field": "t"}
 }}
]
},
{
"title": {"text": "Odile WWLLN Distribution"},
"width": 975, "height": 254,
"resolve": {"scale": {"y": "independent"}, "axis": {"y": "independent"}},
"layer": [
{"data": {"name": "C_bars"}, "mark": {"type": "bar", "orient": "vertical", "width": 6.94, "xOffset": 3.272},
 "encoding": {
  "x": {"field": "h", "type": "quantitative", "scale": {"domain": [12, 161], "nice": false, "zero": false}, "axis": {"orient": "bottom", "title": null, "values": [12,24,36,48,60,72,84,96,108,120,132,144,156], "labelExpr": "(11+floor(datum.value/24)) + '-' + (datum.value % 24 == 0 ? '00' : '12')"}},
  "y": {"field": "v", "type": "quantitative", "scale": {"type": "log", "domain": [1.514e-6, 100], "nice": false}, "axis": {"orient": "left", "title": "Fl/km²/h", "labelOverlap": false, "values": [2e-6,3e-6,4e-6,5e-6,6e-6,7e-6,8e-6,9e-6,1e-5,2e-5,3e-5,4e-5,5e-5,6e-5,7e-5,8e-5,9e-5,1e-4,2e-4,3e-4,4e-4,5e-4,6e-4,7e-4,8e-4,9e-4,1e-3,2e-3,3e-3,4e-3,5e-3,6e-3,7e-3,8e-3,9e-3,1e-2,2e-2,3e-2,4e-2,5e-2,6e-2,7e-2,8e-2,9e-2,0.1,0.2,0.3,0.4,0.5,0.6,0.7,0.8,0.9,1,2,3,4,5,6,7,8,9,10,20,30,40,50,60,70,80,90,100], "tickSize": {"condition": {"test": "abs(log(datum.value)/LN10 - round(log(datum.value)/LN10)) < 0.01", "value": -7}, "value": -3.5}, "labelExpr": "abs(log(datum.value)/LN10 - round(log(datum.value)/LN10)) > 0.01 ? '' : datum.value > 50 ? '10²' : datum.value > 5 ? '10¹' : datum.value > 0.5 ? '10⁰' : datum.value > 0.05 ? '10⁻¹' : datum.value > 0.005 ? '10⁻²' : datum.value > 0.0005 ? '10⁻³' : datum.value > 0.00005 ? '10⁻⁴' : '10⁻⁵'"}},
  "y2": {"datum": 1.514e-6},
  "color": {"datum": "RainBand", "scale": {"range": ["#ff1f1f"]}, "legend": {"title": null, "labelExpr": "datum.label + '              '"}}
 }},
{"data": {"name": "C_line"}, "mark": {"type": "line", "color": "black", "strokeWidth": 2.6},
 "encoding": {
  "x": {"field": "h", "type": "quantitative", "scale": {"domain": [12, 161], "nice": false, "zero": false}, "axis": {"orient": "top", "title": null, "values": [12,24,36,48,60,72,84,96,108,120,132,144,156]}},
  "y": {"field": "w", "type": "quantitative", "scale": {"domain": [0, 140], "nice": false, "zero": false}, "axis": {"orient": "right", "title": "Wind Speed (kts)", "values": [0,20,40,60,80,100,120,140]}}
 }},
{"data": {"name": "C_box"}, "mark": {"type": "rect", "fill": "#d6e6f7", "stroke": "black", "strokeWidth": 2.5},
 "encoding": {
  "x": {"field": "h", "type": "quantitative", "scale": {"domain": [12, 161], "nice": false, "zero": false}, "axis": null},
  "x2": {"field": "h2"},
  "y": {"field": "w", "type": "quantitative", "scale": {"domain": [0, 140], "nice": false, "zero": false}, "axis": null},
  "y2": {"field": "w2"}
 }},
{"data": {"name": "C_arrow"}, "mark": {"type": "rule", "color": "black", "strokeWidth": 7},
 "encoding": {
  "x": {"field": "h", "type": "quantitative", "scale": {"domain": [12, 161], "nice": false, "zero": false}, "axis": null},
  "x2": {"field": "h2"},
  "y": {"field": "w", "type": "quantitative", "scale": {"domain": [0, 140], "nice": false, "zero": false}, "axis": null},
  "y2": {"field": "w2"}
 }},
{"data": {"name": "C_arrow"}, "mark": {"type": "point", "shape": "triangle-up", "filled": true, "color": "black", "opacity": 1, "size": 420},
 "encoding": {
  "x": {"field": "h2", "type": "quantitative", "scale": {"domain": [12, 161], "nice": false, "zero": false}, "axis": null},
  "y": {"field": "w2", "type": "quantitative", "scale": {"domain": [0, 140], "nice": false, "zero": false}, "axis": null},
  "angle": {"field": "a", "type": "quantitative", "scale": null}
 }},
{"data": {"name": "C_text"}, "mark": {"type": "text", "font": "Lato", "fontWeight": "bold", "fontSize": 22, "align": "left", "baseline": "middle", "color": "black"},
 "encoding": {
  "x": {"field": "h", "type": "quantitative", "scale": {"domain": [12, 161], "nice": false, "zero": false}, "axis": null},
  "y": {"field": "w", "type": "quantitative", "scale": {"domain": [0, 140], "nice": false, "zero": false}, "axis": null},
  "text": {"field": "t"}
 }},
{"data": {"name": "C_lbl"}, "mark": {"type": "text", "font": "Lato", "fontSize": 38, "align": "center", "baseline": "middle", "color": "black"},
 "encoding": {
  "x": {"field": "h", "type": "quantitative", "scale": {"domain": [12, 161], "nice": false, "zero": false}, "axis": null},
  "y": {"field": "w", "type": "quantitative", "scale": {"domain": [0, 140], "nice": false, "zero": false}, "axis": null},
  "text": {"field": "t"}
 }}
]
},
{
"title": {"text": "Blanca WWLLN Distribution"},
"width": 975, "height": 254,
"resolve": {"scale": {"y": "independent"}, "axis": {"y": "independent"}},
"layer": [
{"data": {"name": "D_bars"}, "mark": {"type": "bar", "orient": "vertical", "width": 5.67, "xOffset": 2.635},
 "encoding": {
  "x": {"field": "h", "type": "quantitative", "scale": {"domain": [0, 185], "nice": false, "zero": false}, "axis": {"orient": "bottom", "title": null, "values": [0,12,24,36,48,60,72,84,96,108,120,132,144,156,168,180], "labelExpr": "'0' + (1+floor(datum.value/24)) + '-' + (datum.value % 24 == 0 ? '00' : '12')"}},
  "y": {"field": "v", "type": "quantitative", "scale": {"type": "log", "domain": [1.514e-6, 100], "nice": false}, "axis": {"orient": "left", "title": "Fl/km²/h", "labelOverlap": false, "values": [2e-6,3e-6,4e-6,5e-6,6e-6,7e-6,8e-6,9e-6,1e-5,2e-5,3e-5,4e-5,5e-5,6e-5,7e-5,8e-5,9e-5,1e-4,2e-4,3e-4,4e-4,5e-4,6e-4,7e-4,8e-4,9e-4,1e-3,2e-3,3e-3,4e-3,5e-3,6e-3,7e-3,8e-3,9e-3,1e-2,2e-2,3e-2,4e-2,5e-2,6e-2,7e-2,8e-2,9e-2,0.1,0.2,0.3,0.4,0.5,0.6,0.7,0.8,0.9,1,2,3,4,5,6,7,8,9,10,20,30,40,50,60,70,80,90,100], "tickSize": {"condition": {"test": "abs(log(datum.value)/LN10 - round(log(datum.value)/LN10)) < 0.01", "value": -7}, "value": -3.5}, "labelExpr": "abs(log(datum.value)/LN10 - round(log(datum.value)/LN10)) > 0.01 ? '' : datum.value > 50 ? '10²' : datum.value > 5 ? '10¹' : datum.value > 0.5 ? '10⁰' : datum.value > 0.05 ? '10⁻¹' : datum.value > 0.005 ? '10⁻²' : datum.value > 0.0005 ? '10⁻³' : datum.value > 0.00005 ? '10⁻⁴' : '10⁻⁵'"}},
  "y2": {"datum": 1.514e-6},
  "color": {"datum": "RainBand", "scale": {"range": ["#ff1f1f"]}, "legend": {"title": null, "labelExpr": "datum.label + '              '"}}
 }},
{"data": {"name": "D_line"}, "mark": {"type": "line", "color": "black", "strokeWidth": 2.6},
 "encoding": {
  "x": {"field": "h", "type": "quantitative", "scale": {"domain": [0, 185], "nice": false, "zero": false}, "axis": {"orient": "top", "title": null, "values": [0,12,24,36,48,60,72,84,96,108,120,132,144,156,168,180]}},
  "y": {"field": "w", "type": "quantitative", "scale": {"domain": [0, 140], "nice": false, "zero": false}, "axis": {"orient": "right", "title": "Wind Speed (kts)", "values": [0,20,40,60,80,100,120,140]}}
 }},
{"data": {"name": "D_box"}, "mark": {"type": "rect", "fill": "#d6e6f7", "stroke": "black", "strokeWidth": 2.5},
 "encoding": {
  "x": {"field": "h", "type": "quantitative", "scale": {"domain": [0, 185], "nice": false, "zero": false}, "axis": null},
  "x2": {"field": "h2"},
  "y": {"field": "w", "type": "quantitative", "scale": {"domain": [0, 140], "nice": false, "zero": false}, "axis": null},
  "y2": {"field": "w2"}
 }},
{"data": {"name": "D_arrow"}, "mark": {"type": "rule", "color": "black", "strokeWidth": 7},
 "encoding": {
  "x": {"field": "h", "type": "quantitative", "scale": {"domain": [0, 185], "nice": false, "zero": false}, "axis": null},
  "x2": {"field": "h2"},
  "y": {"field": "w", "type": "quantitative", "scale": {"domain": [0, 140], "nice": false, "zero": false}, "axis": null},
  "y2": {"field": "w2"}
 }},
{"data": {"name": "D_arrow"}, "mark": {"type": "point", "shape": "triangle-up", "filled": true, "color": "black", "opacity": 1, "size": 420},
 "encoding": {
  "x": {"field": "h2", "type": "quantitative", "scale": {"domain": [0, 185], "nice": false, "zero": false}, "axis": null},
  "y": {"field": "w2", "type": "quantitative", "scale": {"domain": [0, 140], "nice": false, "zero": false}, "axis": null},
  "angle": {"field": "a", "type": "quantitative", "scale": null}
 }},
{"data": {"name": "D_text"}, "mark": {"type": "text", "font": "Lato", "fontWeight": "bold", "fontSize": 22, "align": "left", "baseline": "middle", "color": "black"},
 "encoding": {
  "x": {"field": "h", "type": "quantitative", "scale": {"domain": [0, 185], "nice": false, "zero": false}, "axis": null},
  "y": {"field": "w", "type": "quantitative", "scale": {"domain": [0, 140], "nice": false, "zero": false}, "axis": null},
  "text": {"field": "t"}
 }},
{"data": {"name": "D_lbl"}, "mark": {"type": "text", "font": "Lato", "fontSize": 38, "align": "center", "baseline": "middle", "color": "black"},
 "encoding": {
  "x": {"field": "h", "type": "quantitative", "scale": {"domain": [0, 185], "nice": false, "zero": false}, "axis": null},
  "y": {"field": "w", "type": "quantitative", "scale": {"domain": [0, 140], "nice": false, "zero": false}, "axis": null},
  "text": {"field": "t"}
 }}
]
},
{
"title": {"text": "Dolores WWLLN Distribution"},
"width": 975, "height": 254,
"resolve": {"scale": {"y": "independent"}, "axis": {"y": "independent"}},
"layer": [
{"data": {"name": "E_bars"}, "mark": {"type": "bar", "orient": "vertical", "width": 8.59, "xOffset": 4.097},
 "encoding": {
  "x": {"field": "h", "type": "quantitative", "scale": {"domain": [12, 131], "nice": false, "zero": false}, "axis": {"orient": "bottom", "title": null, "values": [12,24,36,48,60,72,84,96,108,120], "labelExpr": "(12+floor(datum.value/24)) + '-' + (datum.value % 24 == 0 ? '00' : '12')"}},
  "y": {"field": "v", "type": "quantitative", "scale": {"type": "log", "domain": [1.514e-6, 100], "nice": false}, "axis": {"orient": "left", "title": "Fl/km²/h", "labelOverlap": false, "values": [2e-6,3e-6,4e-6,5e-6,6e-6,7e-6,8e-6,9e-6,1e-5,2e-5,3e-5,4e-5,5e-5,6e-5,7e-5,8e-5,9e-5,1e-4,2e-4,3e-4,4e-4,5e-4,6e-4,7e-4,8e-4,9e-4,1e-3,2e-3,3e-3,4e-3,5e-3,6e-3,7e-3,8e-3,9e-3,1e-2,2e-2,3e-2,4e-2,5e-2,6e-2,7e-2,8e-2,9e-2,0.1,0.2,0.3,0.4,0.5,0.6,0.7,0.8,0.9,1,2,3,4,5,6,7,8,9,10,20,30,40,50,60,70,80,90,100], "tickSize": {"condition": {"test": "abs(log(datum.value)/LN10 - round(log(datum.value)/LN10)) < 0.01", "value": -7}, "value": -3.5}, "labelExpr": "abs(log(datum.value)/LN10 - round(log(datum.value)/LN10)) > 0.01 ? '' : datum.value > 50 ? '10²' : datum.value > 5 ? '10¹' : datum.value > 0.5 ? '10⁰' : datum.value > 0.05 ? '10⁻¹' : datum.value > 0.005 ? '10⁻²' : datum.value > 0.0005 ? '10⁻³' : datum.value > 0.00005 ? '10⁻⁴' : '10⁻⁵'"}},
  "y2": {"datum": 1.514e-6},
  "color": {"datum": "RainBand", "scale": {"range": ["#ff1f1f"]}, "legend": {"title": null, "labelExpr": "datum.label + '              '"}}
 }},
{"data": {"name": "E_line"}, "mark": {"type": "line", "color": "black", "strokeWidth": 2.6},
 "encoding": {
  "x": {"field": "h", "type": "quantitative", "scale": {"domain": [12, 131], "nice": false, "zero": false}, "axis": {"orient": "top", "title": null, "values": [12,24,36,48,60,72,84,96,108,120]}},
  "y": {"field": "w", "type": "quantitative", "scale": {"domain": [0, 140], "nice": false, "zero": false}, "axis": {"orient": "right", "title": "Wind Speed (kts)", "values": [0,20,40,60,80,100,120,140]}}
 }},
{"data": {"name": "E_box"}, "mark": {"type": "rect", "fill": "#d6e6f7", "stroke": "black", "strokeWidth": 2.5},
 "encoding": {
  "x": {"field": "h", "type": "quantitative", "scale": {"domain": [12, 131], "nice": false, "zero": false}, "axis": null},
  "x2": {"field": "h2"},
  "y": {"field": "w", "type": "quantitative", "scale": {"domain": [0, 140], "nice": false, "zero": false}, "axis": null},
  "y2": {"field": "w2"}
 }},
{"data": {"name": "E_arrow"}, "mark": {"type": "rule", "color": "black", "strokeWidth": 7},
 "encoding": {
  "x": {"field": "h", "type": "quantitative", "scale": {"domain": [12, 131], "nice": false, "zero": false}, "axis": null},
  "x2": {"field": "h2"},
  "y": {"field": "w", "type": "quantitative", "scale": {"domain": [0, 140], "nice": false, "zero": false}, "axis": null},
  "y2": {"field": "w2"}
 }},
{"data": {"name": "E_arrow"}, "mark": {"type": "point", "shape": "triangle-up", "filled": true, "color": "black", "opacity": 1, "size": 420},
 "encoding": {
  "x": {"field": "h2", "type": "quantitative", "scale": {"domain": [12, 131], "nice": false, "zero": false}, "axis": null},
  "y": {"field": "w2", "type": "quantitative", "scale": {"domain": [0, 140], "nice": false, "zero": false}, "axis": null},
  "angle": {"field": "a", "type": "quantitative", "scale": null}
 }},
{"data": {"name": "E_text"}, "mark": {"type": "text", "font": "Lato", "fontWeight": "bold", "fontSize": 22, "align": "left", "baseline": "middle", "color": "black"},
 "encoding": {
  "x": {"field": "h", "type": "quantitative", "scale": {"domain": [12, 131], "nice": false, "zero": false}, "axis": null},
  "y": {"field": "w", "type": "quantitative", "scale": {"domain": [0, 140], "nice": false, "zero": false}, "axis": null},
  "text": {"field": "t"}
 }},
{"data": {"name": "E_lbl"}, "mark": {"type": "text", "font": "Lato", "fontSize": 38, "align": "center", "baseline": "middle", "color": "black"},
 "encoding": {
  "x": {"field": "h", "type": "quantitative", "scale": {"domain": [12, 131], "nice": false, "zero": false}, "axis": null},
  "y": {"field": "w", "type": "quantitative", "scale": {"domain": [0, 140], "nice": false, "zero": false}, "axis": null},
  "text": {"field": "t"}
 }}
]
}
],
"config": {
 "view": {"stroke": "#1a1a1a", "strokeWidth": 1.5},
 "axis": {"grid": false, "domain": false, "tickColor": "#1a1a1a", "tickSize": -6, "tickWidth": 1, "labelColor": "#222222", "labelFont": "DejaVu Sans", "labelFontSize": 15, "titleColor": "#111111", "titleFontWeight": "normal"},
 "axisBottom": {"labelAngle": 33, "labelAlign": "center", "labelBaseline": "middle", "labelPadding": 24, "labelFontSize": 16},
 "axisTop": {"labels": false},
 "axisLeft": {"labelPadding": 16, "titlePadding": 58, "titleFont": "DejaVu Serif", "titleFontStyle": "italic", "titleFontSize": 21},
 "axisRight": {"labelPadding": 13, "titlePadding": 46, "titleFont": "Liberation Sans", "titleFontSize": 18, "titleAngle": 270, "titleBaseline": "top"},
 "legend": {"orient": "top-right", "offset": 9, "padding": 3, "strokeColor": "#222222", "fillColor": "white", "symbolType": "M-1,-0.1L1,-0.1L1,0.1L-1,0.1Z", "symbolSize": 4900, "symbolStrokeWidth": 0, "clipHeight": 15, "labelFont": "DejaVu Sans", "labelFontSize": 16, "labelOffset": 24, "labelLimit": 400, "labelColor": "#222222"},
 "title": {"font": "DejaVu Sans", "fontSize": 30, "fontWeight": "normal", "color": "#111111", "anchor": "middle", "frame": "group", "baseline": "alphabetic", "offset": -11.5}
}
}
